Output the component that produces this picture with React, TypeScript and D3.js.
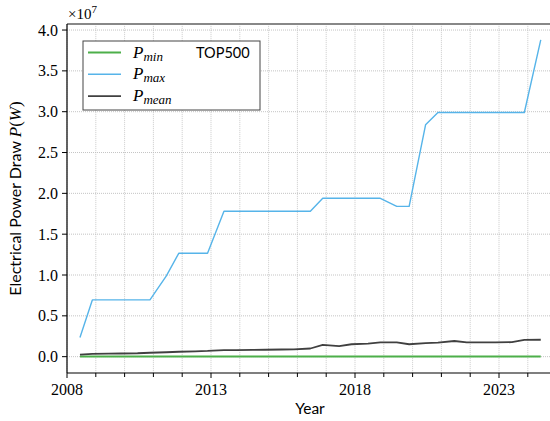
import React from "react";
import * as d3 from "d3";

const years: number[] = [
  2008.45, 2008.88, 2009.45, 2009.88, 2010.45, 2010.88, 2011.45, 2011.88,
  2012.45, 2012.88, 2013.45, 2013.88, 2014.45, 2014.88, 2015.45, 2015.88,
  2016.45, 2016.88, 2017.45, 2017.88, 2018.45, 2018.88, 2019.45, 2019.88,
  2020.45, 2020.88, 2021.45, 2021.88, 2022.45, 2022.88, 2023.45, 2023.88,
  2024.45,
];
// values in units of 1e7 W
const pMax: number[] = [
  0.235, 0.695, 0.695, 0.695, 0.695, 0.695, 0.99, 1.266,
  1.266, 1.266, 1.781, 1.781, 1.781, 1.781, 1.781, 1.781,
  1.781, 1.94, 1.94, 1.94, 1.94, 1.94, 1.84, 1.84,
  2.84, 2.99, 2.99, 2.99, 2.99, 2.99, 2.99, 2.99,
  3.88,
];
const pMean: number[] = [
  0.025, 0.035, 0.037, 0.039, 0.042, 0.048, 0.054, 0.06,
  0.066, 0.07, 0.08, 0.081, 0.082, 0.085, 0.088, 0.09,
  0.1, 0.145, 0.13, 0.152, 0.16, 0.175, 0.175, 0.152,
  0.165, 0.172, 0.192, 0.175, 0.175, 0.176, 0.177, 0.205,
  0.207,
];
const pMin: number[] = [
  0.002, 0.002, 0.002, 0.002, 0.002, 0.002, 0.002, 0.002,
  0.002, 0.002, 0.002, 0.002, 0.002, 0.002, 0.002, 0.002,
  0.002, 0.002, 0.002, 0.002, 0.002, 0.002, 0.002, 0.002,
  0.002, 0.002, 0.002, 0.002, 0.001, 0.001, 0.001, 0.001,
  0.001,
];
const yTicks: number[] = [0, 0.5, 1, 1.5, 2, 2.5, 3, 3.5, 4];
const xMajor: number[] = [2008, 2013, 2018, 2023];
const xMinor: number[] = d3.range(2008, 2026);

const W = 550;
const H = 421;
const left = 67;
const top = 24;
const bottom = 373;

export default function App() {
  const x = d3.scaleLinear().domain([2008, 2025]).range([left, left + 17 * 28.8]);
  const y = d3.scaleLinear().domain([-0.2, 4.074]).range([bottom, top]);
  const line = (vals: number[]) =>
    d3.line<number>().x((_, i) => x(years[i])).y((v) => y(v))(vals) || "";
  const right = W + 20;
  const serif = "'Liberation Serif', 'DejaVu Serif', serif";
  const sans = "Lato, 'Open Sans', sans-serif";

  const series = [
    { name: "min", vals: pMin, color: "#4daf4a", w: 2 },
    { name: "max", vals: pMax, color: "#56b4e9", w: 1.4 },
    { name: "mean", vals: pMean, color: "#404040", w: 1.8 },
  ];

  return (
    <svg width={W} height={H} style={{ position: "absolute", left: 0, top: 0, background: "#fff" }}>
      <defs>
        <clipPath id="plotclip">
          <rect x={left} y={top} width={right - left} height={bottom - top} />
        </clipPath>
      </defs>
      {/* grid */}
      {xMinor.map((t) => (
        <line key={"gx" + t} x1={x(t)} x2={x(t)} y1={top} y2={bottom} stroke="#c8c8c8" strokeWidth={0.8} strokeDasharray="1.2,0.8" />
      ))}
      {yTicks.map((t) => (
        <line key={"gy" + t} x1={left} x2={right} y1={y(t)} y2={y(t)} stroke="#bdbdbd" strokeWidth={0.9} strokeDasharray="1,1" />
      ))}
      {/* series */}
      <g clipPath="url(#plotclip)">
        {series.map((s) => (
          <path key={s.name} d={line(s.vals)} fill="none" stroke={s.color} strokeWidth={s.w} strokeLinejoin="round" />
        ))}
      </g>
      {/* spines */}
      <line x1={left} x2={right} y1={top} y2={top} stroke="#888" strokeWidth={2} />
      <line x1={left} x2={left} y1={top} y2={bottom} stroke="#000" strokeWidth={1.2} />
      <line x1={left} x2={right} y1={bottom} y2={bottom} stroke="#000" strokeWidth={1.2} />
      {/* y ticks */}
      {yTicks.map((t) => (
        <g key={"yt" + t}>
          <line x1={left - 5} x2={left} y1={y(t)} y2={y(t)} stroke="#000" strokeWidth={1} />
          <text x={left - 9} y={y(t)} dy="0.35em" textAnchor="end" fontFamily={serif} fontSize={16}>
            {t.toFixed(1)}
          </text>
        </g>
      ))}
      <text x={68} y={19} fontFamily={serif} fontSize={15}>
        ×10<tspan dy={-6} fontSize={11}>7</tspan>
      </text>
      {/* x ticks */}
      {xMinor.map((t) => (
        <line key={"xt" + t} x1={x(t)} x2={x(t)} y1={bottom} y2={bottom + (xMajor.includes(t) ? 5 : 4)} stroke="#000" strokeWidth={1} />
      ))}
      {xMajor.map((t) => (
        <text key={"xl" + t} x={x(t)} y={bottom + 22} textAnchor="middle" fontFamily={serif} fontSize={16}>
          {t}
        </text>
      ))}
      <text x={310} y={414} textAnchor="middle" fontFamily={sans} fontSize={15.5}>
        Year
      </text>
      <text transform={`translate(21,${(top + bottom) / 2}) rotate(-90)`} textAnchor="middle" fontFamily={sans} fontSize={16}>
        Electrical Power Draw{" "}
        <tspan fontFamily={serif} fontStyle="italic" fontSize={17}>P</tspan>
        <tspan fontFamily={serif} fontSize={17}>(</tspan>
        <tspan fontFamily={serif} fontStyle="italic" fontSize={17}>W</tspan>
        <tspan fontFamily={serif} fontSize={17}>)</tspan>
      </text>
      {/* legend */}
      <rect x={83} y={41} width={177} height={69} fill="#fff" stroke="#444" strokeWidth={1} />
      {series.map((s, i) => {
        const ly = 52.5 + i * 21.8;
        return (
          <g key={"lg" + s.name}>
            <line x1={88} x2={121} y1={ly} y2={ly} stroke={s.color} strokeWidth={s.w} />
            <text x={133} y={ly + 5} fontFamily={serif} fontStyle="italic" fontSize={17}>
              P<tspan dy={3} fontSize={13}>{s.name}</tspan>
            </text>
          </g>
        );
      })}
      <text x={196} y={58} fontFamily={sans} fontSize={14.5}>
        TOP500
      </text>
    </svg>
  );
}
